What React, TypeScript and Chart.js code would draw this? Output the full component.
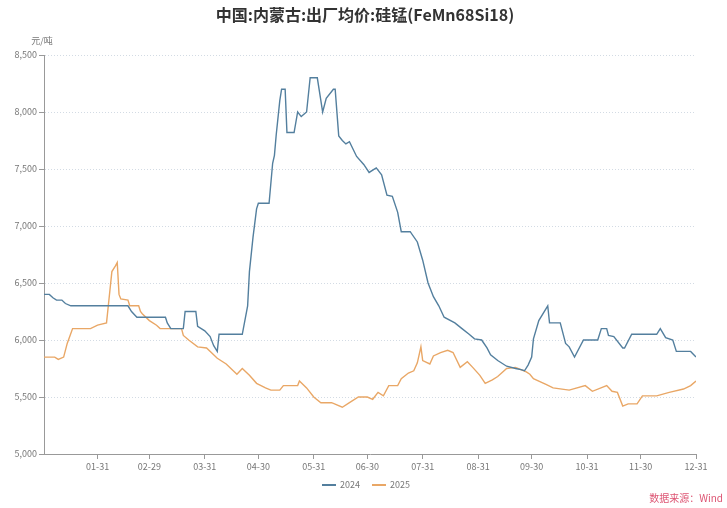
import React, { useEffect, useRef } from "react";
import { Chart, registerables } from "chart.js";

Chart.register(...registerables);

const TITLE = "中国:内蒙古:出厂均价:硅锰(FeMn68Si18)";
const UNIT = "元/吨";
const SOURCE = "数据来源：Wind";

const monthEndDays = [30, 59, 90, 120, 151, 181, 212, 243, 273, 304, 334, 365];
const monthEndLabels = ["01-31", "02-29", "03-31", "04-30", "05-31", "06-30", "07-31", "08-31", "09-30", "10-31", "11-30", "12-31"];
const yTickValues = [5000, 5500, 6000, 6500, 7000, 7500, 8000, 8500];

const seriesNames = ["2024", "2025"];

const days2024 = [
  0, 3, 5, 7, 10, 12, 15, 47, 49, 52, 68, 69, 71, 78, 79, 85, 86, 90, 93, 95, 97, 98, 111,
  114, 115, 117, 119, 120, 126, 128, 129, 130, 132, 133, 135, 136, 140, 142, 144, 147, 149, 153,
  156, 158, 162, 163, 165, 167, 169, 171, 175, 179, 182, 186, 189, 192, 195, 198, 200, 205, 209,
  212, 215, 218, 221, 224, 230, 234, 238, 241, 245, 248, 250, 254, 259, 264, 267, 269, 271, 273,
  274, 277, 282, 283, 289, 292, 294, 297, 302, 310, 312, 315, 316, 319, 324, 325, 329, 343, 345,
  348, 352, 354, 362, 365,
];
const values2024 = [
  6400, 6400, 6370, 6350, 6350, 6320, 6300, 6300, 6250, 6200, 6200, 6150, 6100, 6100, 6250, 6250, 6120, 6080, 6030, 5950, 5900, 6050, 6050,
  6300, 6600, 6900, 7150, 7200, 7200, 7550, 7620, 7800, 8100, 8200, 8200, 7820, 7820, 8000, 7960, 8000, 8300, 8300,
  8000, 8120, 8200, 8200, 7790, 7750, 7720, 7740, 7610, 7540, 7470, 7510, 7450, 7270, 7260, 7120, 6950, 6950, 6860,
  6700, 6500, 6380, 6300, 6200, 6150, 6100, 6050, 6010, 6000, 5930, 5870, 5820, 5770, 5750, 5740, 5730, 5780, 5850,
  6010, 6170, 6300, 6150, 6150, 5970, 5940, 5850, 6000, 6000, 6100, 6100, 6040, 6030, 5930, 5930, 6050, 6050, 6100,
  6020, 6000, 5900, 5900, 5850,
];

const days2025 = [
  0, 6, 8, 11, 13, 16, 26, 30, 35, 36, 38, 40, 41, 42, 43, 47, 48, 53, 54, 55, 59, 63, 65, 77,
  78, 81, 86, 91, 97, 102, 108, 111, 115, 119, 124, 127, 132, 134, 142, 143, 147, 151, 155, 161,
  167, 171, 176, 181, 184, 187, 190, 193, 198, 200, 204, 207, 209, 211, 212, 216, 218, 222, 226,
  229, 233, 237, 240, 244, 247, 251, 254, 259, 264, 267, 270, 272, 274, 277, 281, 285, 294, 303,
  307, 315, 318, 321, 324, 327, 332, 335, 343, 350, 358, 362, 365,
];
const values2025 = [
  5850, 5850, 5830, 5850, 5970, 6100, 6100, 6130, 6150, 6300, 6600, 6650, 6680, 6400, 6360, 6350, 6300, 6300, 6250, 6230, 6170, 6130, 6100, 6100,
  6040, 6000, 5940, 5930, 5840, 5790, 5700, 5750, 5690, 5620, 5580, 5560, 5560, 5600, 5600, 5640, 5580, 5500, 5450, 5450,
  5410, 5450, 5500, 5500, 5480, 5540, 5510, 5600, 5600, 5660, 5710, 5730, 5800, 5940, 5820, 5790, 5860, 5890, 5910,
  5890, 5760, 5810, 5760, 5690, 5620, 5650, 5680, 5750, 5760, 5740, 5720, 5700, 5660, 5640, 5610, 5580, 5560, 5600,
  5550, 5600, 5550, 5540, 5420, 5440, 5440, 5510, 5510, 5540, 5570, 5600, 5640,
];

const COLOR_2024 = "#537f9e";
const COLOR_2025 = "#e9a766";
const FONT = "'Noto Sans CJK SC', 'Noto Sans', sans-serif";

const decorPlugin = {
  id: "decor",
  afterDraw(chart: any) {
    const ctx = chart.ctx as CanvasRenderingContext2D;
    const area = chart.chartArea;
    ctx.save();
    // title
    ctx.fillStyle = "#333";
    ctx.font = `bold 16px ${FONT}`;
    ctx.textAlign = "center";
    ctx.textBaseline = "middle";
    ctx.fillText(TITLE, 365, 15);
    // unit
    ctx.fillStyle = "#777";
    ctx.font = `9px ${FONT}`;
    ctx.textAlign = "center";
    ctx.fillText(UNIT, area.left - 2, area.top - 14);
    // legend
    const legendY = 485;
    const items = [
      { name: seriesNames[0], color: COLOR_2024, x: 322 },
      { name: seriesNames[1], color: COLOR_2025, x: 372 },
    ];
    ctx.font = `9px ${FONT}`;
    ctx.textAlign = "left";
    for (const it of items) {
      ctx.strokeStyle = it.color;
      ctx.lineWidth = 2;
      ctx.beginPath();
      ctx.moveTo(it.x, legendY);
      ctx.lineTo(it.x + 14, legendY);
      ctx.stroke();
      ctx.fillStyle = "#777";
      ctx.fillText(it.name, it.x + 18, legendY);
    }
    // source
    ctx.fillStyle = "#dd5573";
    ctx.font = `10px ${FONT}`;
    ctx.textAlign = "right";
    ctx.fillText(SOURCE, 723, 498);
    ctx.restore();
  },
};

export default function App() {
  const ref = useRef<HTMLCanvasElement | null>(null);

  useEffect(() => {
    if (!ref.current) return;
    const chart = new Chart(ref.current, {
      type: "line",
      data: {
        datasets: [
          {
            label: seriesNames[0],
            data: days2024.map((d, i) => ({ x: d, y: values2024[i] })),
            borderColor: COLOR_2024,
            backgroundColor: COLOR_2024,
            borderWidth: 1.4,
            pointRadius: 0,
            tension: 0,
          },
          {
            label: seriesNames[1],
            data: days2025.map((d, i) => ({ x: d, y: values2025[i] })),
            borderColor: COLOR_2025,
            backgroundColor: COLOR_2025,
            borderWidth: 1.4,
            pointRadius: 0,
            tension: 0,
          },
        ],
      },
      options: {
        animation: false,
        responsive: false,
        maintainAspectRatio: false,
        layout: { padding: { left: 0, right: 31, top: 55, bottom: 30 } },
        plugins: {
          legend: { display: false },
          title: { display: false },
          tooltip: { enabled: false },
        },
        scales: {
          x: {
            type: "linear",
            min: 0,
            max: 365,
            afterBuildTicks: (scale: any) => {
              scale.ticks = monthEndDays.map((v) => ({ value: v }));
            },
            afterFit: (scale: any) => {
              scale.height = 24;
            },
            ticks: {
              autoSkip: false,
              maxRotation: 0,
              padding: 2,
              color: "#777",
              font: { size: 9, family: FONT },
              callback: (v: any) => {
                const i = monthEndDays.indexOf(Number(v));
                return i >= 0 ? monthEndLabels[i] : "";
              },
            },
            grid: {
              drawOnChartArea: false,
              drawTicks: true,
              tickLength: 5,
              tickColor: "#999",
            },
            border: { display: true, color: "#999", width: 1 },
          },
          y: {
            min: 5000,
            max: 8500,
            afterBuildTicks: (scale: any) => {
              scale.ticks = yTickValues.map((v) => ({ value: v }));
            },
            afterFit: (scale: any) => {
              scale.width = 44;
            },
            ticks: {
              padding: 2,
              color: "#777",
              font: { size: 9, family: FONT },
              callback: (v: any) => Number(v).toLocaleString("en-US"),
            },
            grid: {
              drawOnChartArea: true,
              color: "#d3dbe4",
              lineWidth: 1,
              drawTicks: true,
              tickLength: 5,
              tickColor: "#999",
              tickBorderDash: [],
            },
            border: { display: true, color: "#999", width: 1, dash: [1, 2] },
          },
        },
      },
      plugins: [decorPlugin],
    });
    return () => chart.destroy();
  }, []);

  return (
    <div style={{ position: "fixed", left: 0, top: 0, width: 727, height: 508, background: "#fff" }}>
      <canvas ref={ref} width={727} height={508} style={{ width: 727, height: 508 }} />
    </div>
  );
}
